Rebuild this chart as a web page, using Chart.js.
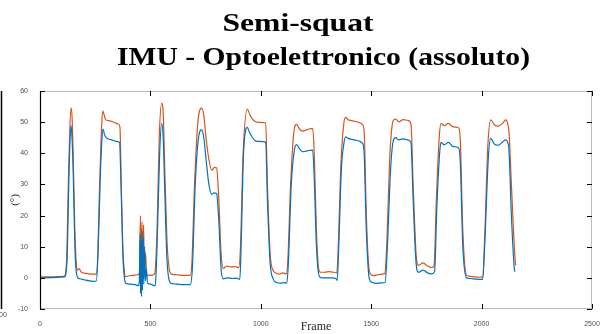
<!DOCTYPE html>
<html lang="it">
<head>
<meta charset="UTF-8">
<title>Semi-squat</title>
<script src="https://cdn.jsdelivr.net/npm/chart.js"></script>
<style>
  html, body { margin: 0; padding: 0; background: #fff; }
  .wrap { width: 604px; height: 334px; }
</style>
</head>
<body>
<div class="wrap"><canvas id="chart" width="604" height="334"></canvas></div>
<script>
// axis ranges / ticks
const xMin = 0, xMax = 2500, xStep = 500;
const yMin = -10, yMax = 60, yStep = 10;

// IMU (blue)
const imuFrames = [0, 110, 122, 132, 140, 145, 150, 158, 165, 172, 180, 200, 220, 240, 255, 263, 272, 280, 286, 292, 300, 315, 330, 345, 360, 367, 375, 383, 390, 410, 430, 445, 450, 453, 455, 458, 460, 462, 464, 467, 470, 474, 477, 482, 487, 500, 515, 522, 530, 542, 551, 558, 565, 575, 585, 596, 620, 650, 680, 690, 703, 718, 732, 742, 752, 765, 778, 788, 800, 810, 820, 830, 850, 870, 890, 905, 910, 922, 939, 950, 960, 975, 995, 1022, 1030, 1042, 1057, 1070, 1090, 1105, 1118, 1125, 1138, 1152, 1162, 1175, 1190, 1210, 1235, 1242, 1252, 1265, 1275, 1300, 1320, 1340, 1346, 1352, 1365, 1376, 1384, 1395, 1410, 1430, 1460, 1468, 1478, 1492, 1505, 1525, 1545, 1563, 1572, 1588, 1600, 1611, 1625, 1645, 1665, 1680, 1690, 1703, 1714, 1735, 1755, 1775, 1787, 1797, 1810, 1816, 1830, 1850, 1870, 1895, 1903, 1915, 1932, 1950, 1975, 2005, 2015, 2030, 2041, 2060, 2075, 2095, 2109, 2118, 2124, 2135, 2148, 2151];
const imuValues = [0, 0.3, 5, 35, 49, 45, 35, 10, 1.5, 0, -0.3, -0.6, -0.9, -1.1, -1.0, 8, 30, 44, 47.8, 46, 45, 44.5, 44.2, 43.8, 43.5, 30, 8, -0.5, -1.8, -2, -2.2, -2.5, -1, 14, -5, 12, -6, 15, -4, 13, -2, 10, -1, 3, -1.7, -2, -2.5, -2.3, 10, 40, 49.6, 45, 28, 6, -0.8, -1.8, -2, -2.2, -2.2, 3, 30, 45, 47.5, 45, 38, 30, 26.8, 27.3, 27, 18, 3, -0.3, 0, -0.2, -0.1, -0.5, 8, 40, 48.3, 46.5, 45.3, 44, 43.8, 43.6, 25, 5, -0.5, -1.5, -1.7, -1.5, -1.7, 5, 30, 41, 42.8, 41.5, 40.5, 40.8, 41, 32, 10, 0.5, 0, 0, 0, -0.2, -0.8, 8, 35, 43, 45.3, 44.8, 44.5, 44.2, 43.3, 40, 15, -0.5, -1.5, -1.8, -1.6, -1.5, 8, 35, 44, 45, 44.3, 44.6, 44.3, 43.5, 25, 5, 1.8, 2.5, 1.6, 1.3, 2, 22, 40, 43.5, 42.7, 43.5, 42.2, 41.8, 38, 10, 0, -0.2, -0.4, -0.5, 12, 38, 44.8, 42.8, 42.6, 43.6, 44.3, 43.5, 41, 20, 3, 2];

// Optoelettronico (orange)
const optoFrames = [0, 110, 120, 130, 140, 145, 150, 158, 165, 171, 178, 185, 200, 220, 240, 255, 262, 270, 278, 284, 290, 297, 310, 325, 340, 352, 362, 368, 375, 382, 388, 400, 420, 440, 450, 455, 458, 462, 465, 469, 473, 478, 483, 495, 510, 520, 530, 540, 551, 558, 565, 575, 585, 596, 620, 650, 680, 688, 700, 715, 732, 742, 752, 765, 778, 790, 800, 810, 820, 830, 845, 865, 885, 900, 908, 920, 939, 950, 960, 975, 995, 1022, 1030, 1042, 1055, 1070, 1085, 1100, 1115, 1122, 1135, 1150, 1162, 1175, 1190, 1210, 1235, 1242, 1252, 1262, 1270, 1290, 1310, 1330, 1344, 1350, 1362, 1375, 1384, 1395, 1410, 1430, 1460, 1468, 1478, 1490, 1500, 1510, 1530, 1550, 1562, 1570, 1585, 1600, 1611, 1625, 1645, 1665, 1680, 1690, 1703, 1714, 1735, 1755, 1775, 1785, 1795, 1808, 1816, 1830, 1850, 1870, 1895, 1903, 1915, 1932, 1950, 1970, 1990, 2005, 2015, 2028, 2041, 2060, 2075, 2095, 2109, 2118, 2124, 2135, 2148, 2154];
const optoValues = [0.3, 0.5, 5, 35, 54.6, 52, 40, 15, 4, 2.5, 3, 2, 1.5, 1.3, 1.2, 1.3, 8, 30, 47, 53.6, 52.5, 50.8, 50.5, 50.2, 49.8, 49.5, 48.5, 30, 10, 2, 0.4, 0.6, 0.8, 1.0, 1.5, 20, 2, 18, 4, 17, 2, 8, 1, 0.8, 0.9, 1.5, 15, 45, 56, 53, 35, 12, 3, 1.2, 1, 0.8, 0.8, 5, 30, 50, 54.5, 52, 45, 38, 34.5, 35.5, 35.3, 25, 8, 3, 3.8, 3.5, 3.6, 3.3, 10, 40, 54.2, 52.5, 51.2, 50.2, 49.9, 49.8, 30, 8, 2.5, 1.5, 1.2, 1.6, 1.3, 5, 30, 47, 49.3, 47.8, 47.1, 47.6, 48, 40, 15, 3, 1.8, 1.8, 2, 1.8, 1.6, 8, 35, 49, 51.5, 50.8, 50.5, 50.2, 49.3, 47, 20, 3, 1.0, 0.7, 1.0, 1.2, 1.4, 10, 40, 50.5, 51, 50.1, 50.8, 50.6, 49.5, 30, 8, 4, 4.8, 3.8, 3.3, 4, 25, 45, 49.6, 48.9, 49.6, 48.5, 48.2, 45, 15, 0.8, 0.5, 0.3, 0.2, 0.3, 15, 42, 50.7, 49, 48.7, 49.6, 50.7, 49.5, 47, 30, 10, 4];

const toPoints = (xs, ys) => xs.map((x, i) => ({ x: x, y: ys[i] }));

const tickFont = { family: 'Liberation Sans', size: 7 };

// draw a title line stretched horizontally to a given width
function drawWide(ctx, text, cx, baseline, width) {
  const w = ctx.measureText(text).width;
  ctx.save();
  ctx.translate(cx, baseline);
  ctx.scale(width / w, 1);
  ctx.fillText(text, 0, 0);
  ctx.restore();
}

// box, inward ticks, titles and the clipped neighbour axis on the left edge
const framePlugin = {
  id: 'framePlugin',
  afterDatasetsDraw(chart) {
    const { ctx, chartArea: a, scales: { x, y } } = chart;
    ctx.save();
    ctx.lineWidth = 1;
    ctx.strokeStyle = '#bdbdbd';
    ctx.beginPath();
    ctx.moveTo(a.left, a.top + 0.5); ctx.lineTo(a.right, a.top + 0.5);
    ctx.moveTo(a.right - 0.5, a.top); ctx.lineTo(a.right - 0.5, a.bottom);
    ctx.moveTo(a.left, a.bottom - 0.5); ctx.lineTo(a.right, a.bottom - 0.5);
    ctx.stroke();

    ctx.strokeStyle = '#000';
    ctx.lineWidth = 1.2;
    ctx.beginPath();
    ctx.moveTo(a.left + 0.5, a.top); ctx.lineTo(a.left + 0.5, a.bottom);
    ctx.stroke();

    const tl = 5;
    ctx.lineWidth = 1;
    ctx.beginPath();
    y.ticks.forEach(t => {
      const py = Math.round(y.getPixelForValue(t.value)) + 0.5;
      ctx.moveTo(a.left, py); ctx.lineTo(a.left + tl, py);
      ctx.moveTo(a.right, py); ctx.lineTo(a.right - tl, py);
    });
    x.ticks.forEach(t => {
      const px = Math.round(x.getPixelForValue(t.value)) + 0.5;
      ctx.moveTo(px, a.top); ctx.lineTo(px, a.top + tl);
      ctx.moveTo(px, a.bottom); ctx.lineTo(px, a.bottom - tl);
    });
    ctx.stroke();

    // neighbouring subplot cut off at the left
    ctx.lineWidth = 1.5;
    ctx.beginPath();
    ctx.moveTo(1.5, a.top); ctx.lineTo(1.5, a.bottom);
    ctx.stroke();
    ctx.fillStyle = '#4d4d4d';
    ctx.font = '7px "Liberation Sans"';
    ctx.textAlign = 'center';
    ctx.textBaseline = 'top';
    ctx.fillText('2500', -1, a.bottom + 3);
    ctx.restore();
  },
  afterDraw(chart) {
    const { ctx } = chart;
    ctx.save();
    ctx.fillStyle = '#000';
    ctx.font = 'bold 26px "Liberation Serif"';
    ctx.textAlign = 'center';
    ctx.textBaseline = 'alphabetic';
    drawWide(ctx, 'Semi-squat', 298, 31, 151);
    drawWide(ctx, 'IMU - Optoelettronico (assoluto)', 323.5, 64.5, 413);
    ctx.restore();
  }
};

new Chart(document.getElementById('chart'), {
  type: 'line',
  data: {
    datasets: [
      {
        label: 'IMU',
        data: toPoints(imuFrames, imuValues),
        borderColor: '#0072BD',
        borderWidth: 1.2,
        pointRadius: 0,
        cubicInterpolationMode: 'monotone',
        fill: false
      },
      {
        label: 'Optoelettronico',
        data: toPoints(optoFrames, optoValues),
        borderColor: '#D95319',
        borderWidth: 1.2,
        pointRadius: 0,
        cubicInterpolationMode: 'monotone',
        fill: false
      }
    ]
  },
  options: {
    responsive: false,
    animation: false,
    layout: { padding: { top: 91, right: 12, left: 0, bottom: 0 } },
    plugins: {
      legend: { display: false },
      tooltip: { enabled: false }
    },
    scales: {
      x: {
        type: 'linear',
        min: xMin, max: xMax,
        grid: { display: false },
        border: { display: false },
        ticks: {
          stepSize: xStep, font: tickFont, color: '#4d4d4d', padding: 3, maxRotation: 0,
          callback: v => String(v)
        },
        title: {
          display: true, text: 'Frame', color: '#262626',
          font: { family: 'Liberation Serif', size: 12 },
          padding: { top: 0, bottom: 0 }
        },
        afterFit(scale) { scale.height = 25; }
      },
      y: {
        min: yMin, max: yMax,
        grid: { display: false },
        border: { display: false },
        ticks: { stepSize: yStep, font: tickFont, color: '#4d4d4d', padding: 4, callback: v => String(v) },
        title: {
          display: true, text: '(°)', color: '#262626',
          font: { family: 'Liberation Serif', size: 11 },
          padding: { top: 9, bottom: 0 }
        },
        afterFit(scale) { scale.width = 40; }
      }
    }
  },
  plugins: [framePlugin]
});
</script>
</body>
</html>
